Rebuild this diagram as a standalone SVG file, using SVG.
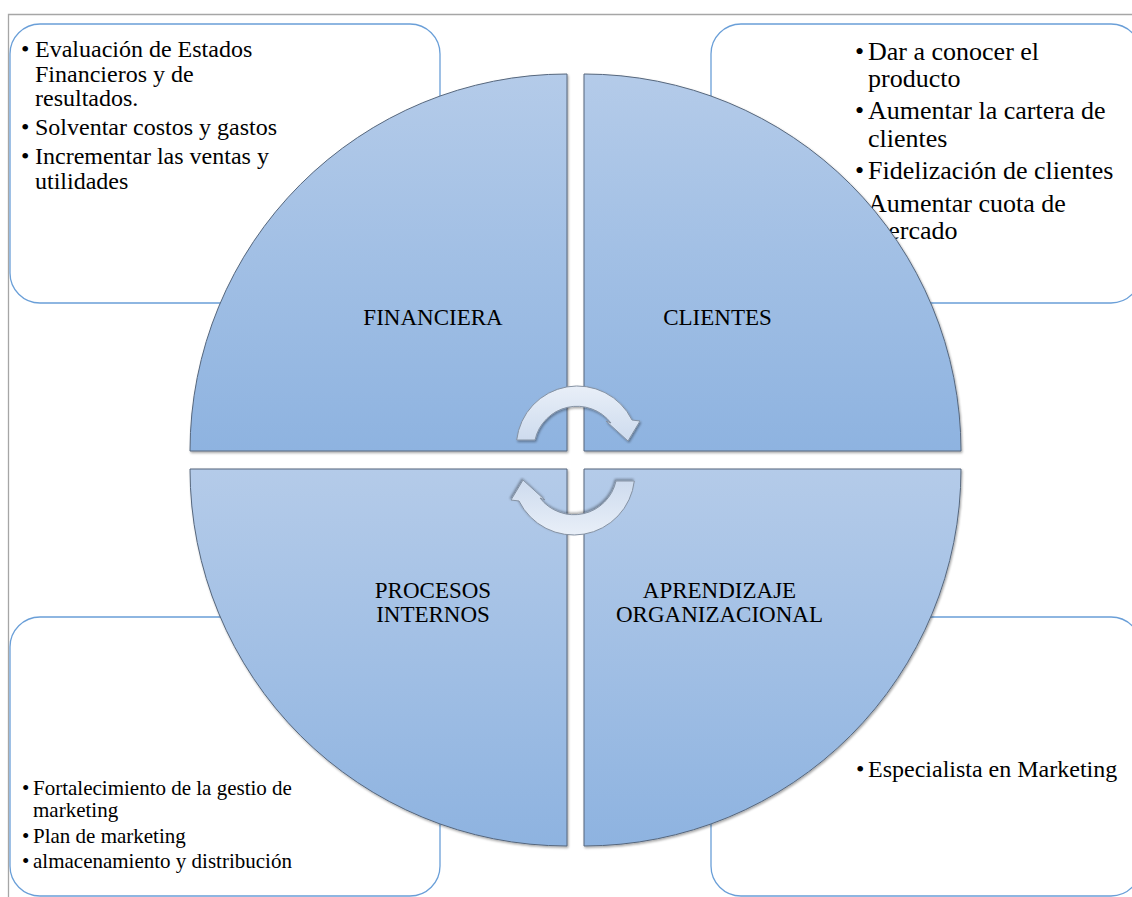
<svg xmlns="http://www.w3.org/2000/svg" width="1132" height="897" viewBox="0 0 1132 897">
  <defs>
    <style>
      .frame { fill: none; stroke: #a6a6a6; stroke-width: 1.3; }
      .box { fill: #ffffff; stroke: #6a9fd8; stroke-width: 1.3; }
      .quad { stroke: #56677d; stroke-width: 1; filter: url(#shade); }
      .txt { font-family: "Liberation Serif", "Times New Roman", serif; fill: #000000; }
      .label { font-family: "Liberation Serif", "Times New Roman", serif; font-size: 23px; fill: #000000; text-anchor: middle; }
      .cycle { fill: url(#arrowFill); stroke: #8592a3; stroke-width: 1; filter: url(#shade); }
    </style>
    <linearGradient id="quadFill" x1="0" y1="0" x2="0" y2="1">
      <stop offset="0" stop-color="#b4cbe9"/>
      <stop offset="1" stop-color="#8eb3e0"/>
    </linearGradient>
    <linearGradient id="arrowFill" x1="0" y1="0" x2="0" y2="1">
      <stop offset="0" stop-color="#e9eff8"/>
      <stop offset="1" stop-color="#cddbee"/>
    </linearGradient>
    <filter id="shade" x="-5%" y="-5%" width="110%" height="110%">
      <feDropShadow dx="1" dy="1.5" stdDeviation="0.8" flood-color="#000000" flood-opacity="0.35"/>
    </filter>
  </defs>

  <!-- page frame -->
  <g id="frame">
    <path class="frame" d="M8.5,897 L8.5,14.5 L1132,14.5"/>
  </g>

  <!-- detail boxes -->
  <g id="box-financiera">
    <rect class="box" x="10" y="24" width="430" height="279" rx="30" ry="30"/>
    <g class="txt" font-size="24">
      <text x="21" y="57">•</text>
      <text x="35" y="57">Evaluación de Estados</text>
      <text x="35" y="82">Financieros y de</text>
      <text x="35" y="106">resultados.</text>
      <text x="21" y="135">•</text>
      <text x="35" y="135">Solventar costos y gastos</text>
      <text x="21" y="164">•</text>
      <text x="35" y="164">Incrementar las ventas y</text>
      <text x="35" y="189">utilidades</text>
    </g>
  </g>

  <g id="box-clientes">
    <rect class="box" x="711" y="24" width="430" height="279" rx="30" ry="30"/>
    <g class="txt" font-size="26">
      <text x="855" y="60">•</text>
      <text x="868" y="60">Dar a conocer el</text>
      <text x="868" y="87">producto</text>
      <text x="855" y="119">•</text>
      <text x="868" y="119">Aumentar la cartera de</text>
      <text x="868" y="147">clientes</text>
      <text x="855" y="179">•</text>
      <text x="868" y="179">Fidelización de clientes</text>
      <text x="855" y="212">•</text>
      <text x="868" y="212">Aumentar cuota de</text>
      <text x="868" y="239">mercado</text>
    </g>
  </g>

  <g id="box-procesos">
    <rect class="box" x="10" y="617" width="430" height="279" rx="30" ry="30"/>
    <g class="txt" font-size="21">
      <text x="22" y="795">•</text>
      <text x="33" y="795">Fortalecimiento de la gestio de</text>
      <text x="33" y="817">marketing</text>
      <text x="22" y="843">•</text>
      <text x="33" y="843">Plan de marketing</text>
      <text x="22" y="868">•</text>
      <text x="33" y="868">almacenamiento y distribución</text>
    </g>
  </g>

  <g id="box-aprendizaje">
    <rect class="box" x="711" y="617" width="430" height="279" rx="30" ry="30"/>
    <g class="txt" font-size="24">
      <text x="856" y="777">•</text>
      <text x="868" y="777">Especialista en Marketing</text>
    </g>
  </g>

  <!-- circle quadrants -->
  <g id="quad-financiera">
    <path class="quad" fill="url(#quadFill)" d="M567,451 L190,451 A377,377 0 0 1 567,74 Z"/>
    <text class="label" x="433" y="325">FINANCIERA</text>
  </g>
  <g id="quad-clientes">
    <path class="quad" fill="url(#quadFill)" d="M584,451 L584,74 A377,377 0 0 1 961,451 Z"/>
    <text class="label" x="717.5" y="325">CLIENTES</text>
  </g>
  <g id="quad-procesos">
    <path class="quad" fill="url(#quadFill)" d="M567,469 L567,846 A377,377 0 0 1 190,469 Z"/>
    <text class="label" x="433" y="598">PROCESOS</text>
    <text class="label" x="433" y="622">INTERNOS</text>
  </g>
  <g id="quad-aprendizaje">
    <path class="quad" fill="url(#quadFill)" d="M584,469 L961,469 A377,377 0 0 1 584,846 Z"/>
    <text class="label" x="719.5" y="598">APRENDIZAJE</text>
    <text class="label" x="719.5" y="622">ORGANIZACIONAL</text>
  </g>

  <!-- cycle arrows -->
  <g id="connectors">
    <path id="cycle-top" class="cycle" d="M516.7,440 A61,61 0 0 1 632,420 L640,421 L628,441 L606,421 L611,423 A43,43 0 0 0 535,440 Z"/>
    <path id="cycle-bottom" class="cycle" transform="rotate(180 575.5 460.5)" d="M516.7,440 A61,61 0 0 1 632,420 L640,421 L628,441 L606,421 L611,423 A43,43 0 0 0 535,440 Z"/>
  </g>
</svg>
